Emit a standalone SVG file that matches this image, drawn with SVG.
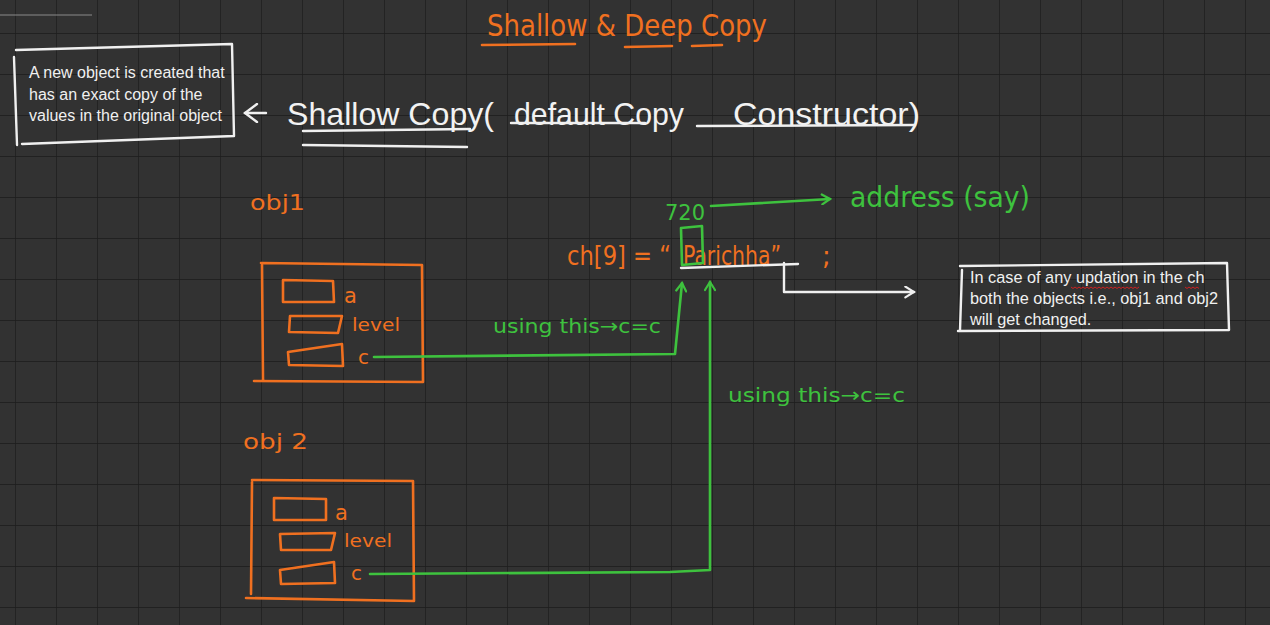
<svg xmlns="http://www.w3.org/2000/svg" width="1270" height="625" viewBox="0 0 1270 625">
<defs>
<style>
.grid{stroke:#1c1c1c;stroke-width:1.4}
.hw{font-family:"DejaVu Sans","Liberation Sans",sans-serif}
.hd{font-family:"Liberation Sans",Arial,sans-serif;font-size:32px}
.or{fill:#f07020}
.gr{fill:#3ec23e}
.wh{fill:#f2f2f2}
.note{font-family:"Liberation Sans","Open Sans",sans-serif;font-size:16px;fill:#f0f0f0}
.so{fill:none;stroke:#f07020;stroke-width:2.6;stroke-linecap:round;stroke-linejoin:round}
.sg{fill:none;stroke:#3ec23e;stroke-width:2.6;stroke-linecap:round;stroke-linejoin:round}
.sw{fill:none;stroke:#f0f0f0;stroke-width:2.4;stroke-linecap:round;stroke-linejoin:round}
</style>
<pattern id="gp" x="15" y="33" width="41" height="41" patternUnits="userSpaceOnUse">
<path d="M0 0V41M0 0H41" class="grid"/>
</pattern>
<marker id="ag" viewBox="0 0 12 12" refX="10" refY="6" markerWidth="12" markerHeight="12" markerUnits="userSpaceOnUse" orient="auto">
<path d="M2 1L10 6L2 11" fill="none" stroke="#3ec23e" stroke-width="2.2" stroke-linecap="round"/>
</marker>
<marker id="aw" viewBox="0 0 12 12" refX="10" refY="6" markerWidth="13" markerHeight="13" markerUnits="userSpaceOnUse" orient="auto">
<path d="M2 1L10 6L2 11" fill="none" stroke="#f0f0f0" stroke-width="2" stroke-linecap="round"/>
</marker>
<marker id="awL" viewBox="0 0 20 20" refX="18" refY="10" markerWidth="20" markerHeight="20" markerUnits="userSpaceOnUse" orient="auto">
<path d="M6 1L18 10L6 19" fill="none" stroke="#f0f0f0" stroke-width="2.4" stroke-linecap="round"/>
</marker>
</defs>
<rect width="1270" height="625" fill="#323232"/>
<rect width="1270" height="625" fill="url(#gp)"/>
<line x1="0" y1="15" x2="92" y2="15" stroke="#8a8a8a" stroke-width="1"/>

<g id="title">
<text class="hw or" x="487" y="36" font-size="30" textLength="280" lengthAdjust="spacingAndGlyphs">Shallow &amp; Deep Copy</text>
<path class="so" d="M482 45L575 44M625 47L672 46M692 46L722 45"/>
</g>

<g id="note-left">
<path class="sw" d="M16 50L232 44L234 136L22 144M14 57L17 145"/>
<text class="note" x="29" y="78">A new object is created that</text>
<text class="note" x="29" y="100">has an exact copy of the</text>
<text class="note" x="29" y="121">values in the original object</text>
</g>

<g id="heading">
<text class="hd wh" x="287" y="125" textLength="207" lengthAdjust="spacingAndGlyphs">Shallow Copy(</text>
<text class="hd wh" x="514" y="125" textLength="170" lengthAdjust="spacingAndGlyphs">default Copy</text>
<text class="hd wh" x="733" y="125" textLength="187" lengthAdjust="spacingAndGlyphs">Constructor)</text>
<path class="sw" d="M303 131L470 129M303 145L467 147M511 123L645 123M697 126L915 125"/>
</g>

<g id="address">
<text class="hw gr" x="665" y="220" font-size="21" textLength="40" lengthAdjust="spacingAndGlyphs">720</text>
<text class="hw gr" x="850" y="207" font-size="28" textLength="180" lengthAdjust="spacingAndGlyphs">address (say)</text>
</g>

<g id="string-decl">
<text class="hw or" y="265" font-size="26"><tspan x="567" textLength="104" lengthAdjust="spacingAndGlyphs">ch[9] = “</tspan><tspan x="683" textLength="98" lengthAdjust="spacingAndGlyphs">Parichha”</tspan><tspan x="822">;</tspan></text>
<path class="sg" d="M681 228L702 226L703 263L682 265Z"/>
<path class="sw" d="M681 268L798 264"/>
</g>

<g id="note-right">
<path class="sw" d="M960 266L1227 263L1229 330L958 331M962 270L960 330"/>
<text class="note" x="970" y="283" style="font-size:16.3px">In case of any updation in the ch</text>
<text class="note" x="970" y="304" style="font-size:16.3px">both the objects i.e., obj1 and obj2</text>
<text class="note" x="970" y="325" style="font-size:16.3px">will get changed.</text>
<path d="M1071 287l2 1.5 2-1.5 2 1.5 2-1.5 2 1.5 2-1.5 2 1.5 2-1.5 2 1.5 2-1.5 2 1.5 2-1.5 2 1.5 2-1.5 2 1.5 2-1.5 2 1.5 2-1.5 2 1.5 2-1.5 2 1.5 2-1.5 2 1.5 2-1.5 2 1.5 2-1.5 2 1.5 2-1.5 2 1.5 2-1.5 2 1.5 2-1.5 2 1.5 2-1.5M1185 287l2 1.5 2-1.5 2 1.5 2-1.5 2 1.5 2-1.5 2 1.5" fill="none" stroke="#d02020" stroke-width="1"/>
</g>

<g id="obj1">
<text class="hw or" x="250" y="210" font-size="22" textLength="55" lengthAdjust="spacingAndGlyphs">obj1</text>
<path class="so" d="M261 263L422 265L423 382L254 381M262 265L263 380"/>
<path class="so" d="M283 280L333 281L334 302L283 302Z"/>
<path class="so" d="M290 316L342 316L338 333L289 332Z"/>
<path class="so" d="M288 352L342 344L343 366L289 365Z"/>
<text class="hw or" x="344" y="303" font-size="21">a</text>
<text class="hw or" x="352" y="331" font-size="17" textLength="48" lengthAdjust="spacingAndGlyphs">level</text>
<text class="hw or" x="358" y="364" font-size="20">c</text>
</g>

<g id="obj2">
<text class="hw or" x="243" y="449" font-size="22" textLength="65" lengthAdjust="spacingAndGlyphs">obj 2</text>
<path class="so" d="M252 480L413 481L414 601L246 598M252 482L251 594"/>
<path class="so" d="M274 498L326 499L326 520L274 520Z"/>
<path class="so" d="M280 534L335 533L331 550L281 550Z"/>
<path class="so" d="M280 570L334 562L335 583L281 584Z"/>
<text class="hw or" x="335" y="520" font-size="21">a</text>
<text class="hw or" x="344" y="547" font-size="17" textLength="48" lengthAdjust="spacingAndGlyphs">level</text>
<text class="hw or" x="351" y="580" font-size="20">c</text>
</g>

<g id="connectors">
<path class="sg" d="M711 206L830 199" marker-end="url(#ag)"/>
<path class="sw" d="M784 263L784 292L914 292" marker-end="url(#aw)"/>
<path class="sw" d="M266 113L245 113" marker-end="url(#awL)"/>
<path class="sg" d="M374 357L675 354L682 283" marker-end="url(#ag)"/>
<path class="sg" d="M370 574L670 572L710 570L710 282" marker-end="url(#ag)"/>
<text class="hw gr" x="493" y="333" font-size="20" textLength="168" lengthAdjust="spacingAndGlyphs">using this→c=c</text>
<text class="hw gr" x="728" y="402" font-size="20" textLength="177" lengthAdjust="spacingAndGlyphs">using this→c=c</text>
</g>
</svg>
